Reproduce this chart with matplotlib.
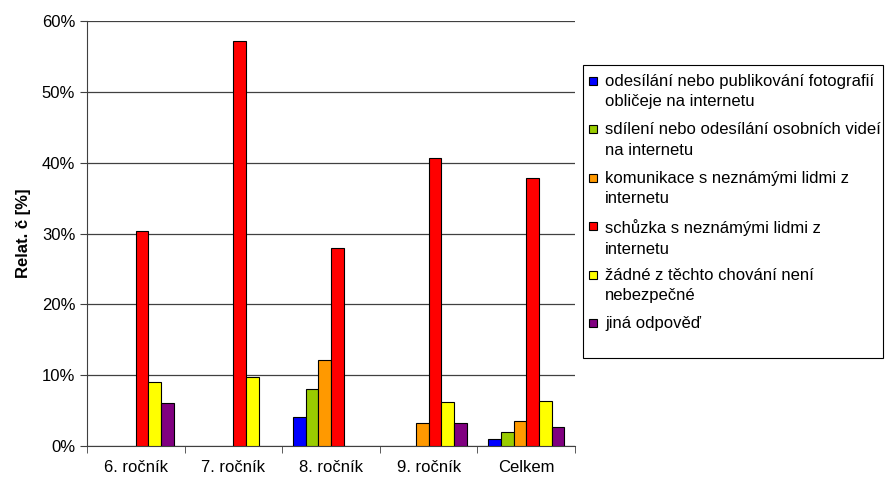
import numpy as np
import matplotlib
matplotlib.use("Agg")
import matplotlib.pyplot as plt
from matplotlib.patches import Rectangle
from matplotlib.ticker import PercentFormatter

plt.rcParams['font.family'] = ['Liberation Sans', 'DejaVu Sans']

categories = ["6. ročník", "7. ročník", "8. ročník", "9. ročník", "Celkem"]
series_names = [
    "odesílání nebo publikování fotografií\nobličeje na internetu",
    "sdílení nebo odesílání osobních videí\nna internetu",
    "komunikace s neznámými lidmi z\ninternetu",
    "schůzka s neznámými lidmi z\ninternetu",
    "žádné z těchto chování není\nnebezpečné",
    "jiná odpověď",
]
colors = ["#0000FF", "#99CC00", "#FF9900", "#FF0000", "#FFFF00", "#800080"]

foto = [0, 0, 4.1, 0, 1.0]
videa = [0, 0, 8.1, 0, 2.0]
komunikace = [0, 0, 12.1, 3.3, 3.6]
schuzka = [30.4, 57.2, 28.0, 40.7, 37.8]
zadne = [9.1, 9.7, 0, 6.2, 6.4]
jina = [6.1, 0, 0, 3.3, 2.7]
values = [foto, videa, komunikace, schuzka, zadne, jina]

W, H = 885, 478
fig = plt.figure(figsize=(W / 100, H / 100), dpi=100)
ax = fig.add_axes([87 / W, 1 - 446 / H, (575 - 87) / W, (446 - 21) / H])

x = np.arange(len(categories))
w = 0.13
for i, (name, vals, c) in enumerate(zip(series_names, values, colors)):
    v = np.array(vals, dtype=float)
    v[v == 0] = np.nan  # empty answers are not drawn
    ax.bar(x + (i - 2.5) * w, v, w, color=c, edgecolor="black",
           linewidth=0.8, label=name, zorder=3)

ax.set_xlim(-0.5, len(categories) - 0.5)
ax.set_ylim(0, 60)
ax.set_yticks(np.arange(0, 61, 10))
ax.yaxis.set_major_formatter(PercentFormatter(decimals=0))
ax.set_xticks(x)
ax.set_xticklabels(categories, fontsize=12)
ax.set_xticks(np.arange(-0.5, len(categories)), minor=True)
ax.tick_params(axis="x", which="major", length=0, pad=10)
ax.tick_params(axis="x", which="minor", length=5, color="#404040")
ax.tick_params(axis="y", labelsize=12, length=5, color="#404040")
ax.grid(axis="y", color="#404040", linewidth=0.9, zorder=0)
for s in ["top", "right"]:
    ax.spines[s].set_visible(False)
for s in ["left", "bottom"]:
    ax.spines[s].set_color("#404040")
ax.set_ylabel("Relat. č [%]", fontsize=12, fontweight="bold", labelpad=8)

# legend drawn by hand: box, small squares next to the first text line
fig.patches.append(Rectangle((583 / W, 1 - 358 / H), 300 / W, 293 / H,
                             transform=fig.transFigure, facecolor="white",
                             edgecolor="black", linewidth=0.8))
for i, (name, c) in enumerate(zip(series_names, colors)):
    yc = 80.7 + i * 48.5
    fig.patches.append(Rectangle((589 / W, 1 - (yc + 4) / H), 8 / W, 8 / H,
                                 transform=fig.transFigure, facecolor=c,
                                 edgecolor="black", linewidth=0.8))
    fig.text(605 / W, 1 - (yc - 7) / H, name, fontsize=12, va="top",
             ha="left", linespacing=1.45)

plt.savefig("out.png", dpi=100)
